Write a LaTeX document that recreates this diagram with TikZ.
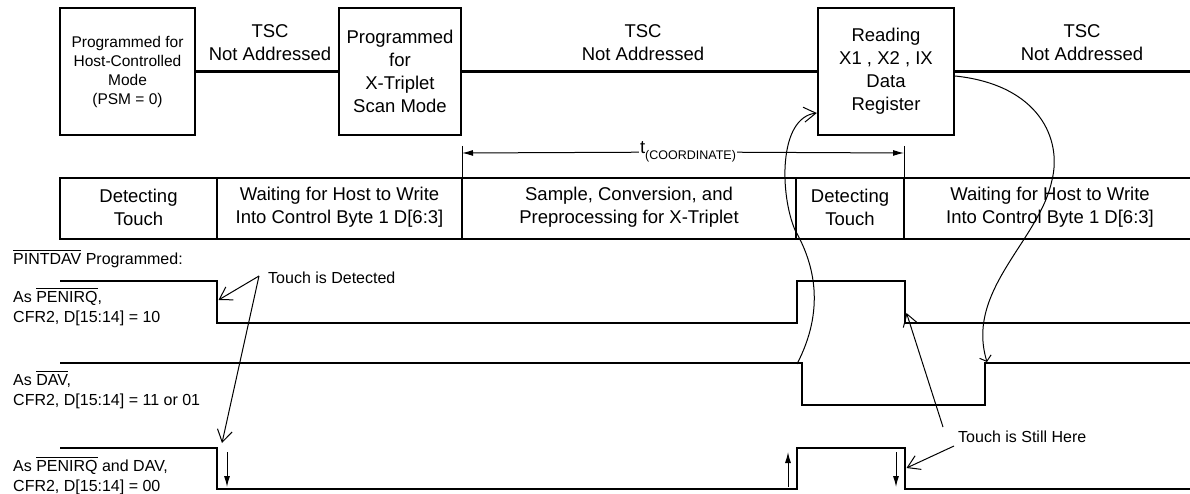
\documentclass[tikz,border=0pt]{standalone}
\usepackage{fontspec}
\setmainfont{Liberation Sans}
\usetikzlibrary{arrows.meta}
\newlength{\olw}
\newcommand{\olin}[1]{\settowidth{\olw}{#1}\rlap{\rule[0.88em]{\olw}{0.9pt}}#1}

\begin{document}
\begin{tikzpicture}[x=1pt,y=-1pt,
  big/.style={font=\fontsize{18.5}{23}\selectfont, align=center, inner sep=0pt},
  small/.style={font=\fontsize{16}{20}\selectfont, align=left, inner sep=0pt},
  modebox/.style={draw, line width=2.4pt, minimum height=127pt, inner sep=0pt, align=center},
  sig/.style={line width=2.2pt},
  fine/.style={line width=1pt},
  barb/.style={-{Straight Barb[length=12pt,width=15pt]}},
  tip/.style={-{Latex[length=11pt,width=6pt]}}]
\useasboundingbox (0,0) rectangle (1190,494);

\node[modebox, minimum width=135pt, font=\fontsize{15.5}{19}\selectfont] (hostmode) at (127.5,71.5) {Programmed for\\Host-Controlled\\Mode\\(PSM = 0)};
\node[modebox, big, minimum width=122pt] (scanmode) at (400,71.5) {Programmed\\for\\X-Triplet\\Scan Mode};
\node[modebox, big, minimum width=136pt] (readreg) at (886,71.5) {Reading\\X1 , X2 , IX\\Data\\Register};
\coordinate (tscend) at (1190,71.5);
\draw[sig] (hostmode) -- (scanmode) (scanmode) -- (readreg) (readreg) -- (tscend);

\node[big] (tsc1) at (270,42.5) {TSC\\Not Addressed};
\node[big] (tsc2) at (643,42.5) {TSC\\Not Addressed};
\node[big] (tsc3) at (1082,42.5) {TSC\\Not Addressed};

% coordinate time
\coordinate (tltop) at (462,146);
\coordinate (tlbot) at (462,178);
\coordinate (trtop) at (904,146);
\coordinate (trbot) at (904,178);
\coordinate (tleft) at (462,153);
\coordinate (tright) at (904,153);
\draw[fine] (tltop) -- (tlbot) (trtop) -- (trbot);
\node[font=\fontsize{18.5}{23}\selectfont, fill=white, inner sep=1pt] (tcoord) at (688,152) {t\raisebox{-0.6ex}{\fontsize{12.5}{14}\selectfont(COORDINATE)}};
\draw[fine, tip] (tcoord) -- (tleft);
\draw[fine, tip] (tcoord) -- (tright);

% state row
\draw[sig] (1190,178) -| (60,239) -- (1190,239);
\foreach \x in {217,462,796,904}
  \draw[sig] (\x,178) -- (\x,239);
\node[big] (detect1) at (138.5,207) {Detecting\\Touch};
\node[big] (wait1) at (339.5,207) {Waiting for Host to Write\\Into Control Byte 1 D[6:3]};
\node[big] (sample) at (629,207) {Sample, Conversion, and\\Preprocessing for X-Triplet};
\node[big] (detect2) at (850,207) {Detecting\\Touch};
\node[big] (wait2) at (1050,207) {Waiting for Host to Write\\Into Control Byte 1 D[6:3]};

% signals
\node[small, anchor=west] (pintdav) at (13,259) {\olin{PINTDAV} Programmed:};
\node[small, anchor=west] (aspen) at (13,307) {As \olin{PENIRQ},\\CFR2, D[15:14] = 10};
\node[small, anchor=west] (asdav) at (13,390) {As \olin{DAV},\\CFR2, D[15:14] = 11 or 01};
\node[small, anchor=west] (asboth) at (13,476) {As \olin{PENIRQ} and DAV,\\CFR2, D[15:14] = 00};

\draw[sig] (60,281) -- (217,281) -- (217,323) -- (797,323) -- (797,281) -- (905,281) -- (905,323) -- (1190,323);
\draw[sig] (60,363) -- (802,363) -- (802,405) -- (985,405) -- (985,363) -- (1190,363);
\draw[sig] (60,448) -- (217,448) -- (217,489) -- (797,489) -- (797,448) -- (905,448) -- (905,489) -- (1190,489);

\coordinate (dn1a) at (227,452);
\coordinate (dn1b) at (227,487);
\coordinate (upa) at (788,487);
\coordinate (upb) at (788,452);
\coordinate (dn2a) at (896,452);
\coordinate (dn2b) at (896,487);
\draw[fine, tip] (dn1a) -- (dn1b);
\draw[fine, tip] (upa) -- (upb);
\draw[fine, tip] (dn2a) -- (dn2b);

% notes
\node[small, anchor=west] (detected) at (268,278) {Touch is Detected};
\coordinate (detfrom) at (259,276);
\coordinate (penfall) at (218.5,300);
\coordinate (bothfall) at (222,443);
\draw[fine, barb] (detfrom) -- (penfall);
\draw[fine, barb] (detfrom) -- (bothfall);

\node[small, anchor=west] (still) at (958,437) {Touch is Still Here};
\coordinate (stillfrom) at (954,446);
\coordinate (stillfrom2) at (943,427);
\coordinate (bothrise) at (906.5,468);
\coordinate (penrise) at (906.5,313);
\draw[fine, barb] (stillfrom) -- (bothrise);
\draw[fine, barb] (stillfrom2) -- (penrise);

\coordinate (davfall) at (797,364);
\coordinate (davrise) at (987,362);
\draw[fine, barb] (davfall) .. controls (825,310) and (815,265) .. (795,230) .. controls (780,195) and (778,118) .. (readreg.west |- 0,113);
\draw[fine, -{Straight Barb[length=5pt,width=12pt]}] (readreg.east |- 0,76) .. controls (1040,85) and (1062,140) .. (1052,180) .. controls (1040,240) and (965,290) .. (davrise);
\end{tikzpicture}
\end{document}
